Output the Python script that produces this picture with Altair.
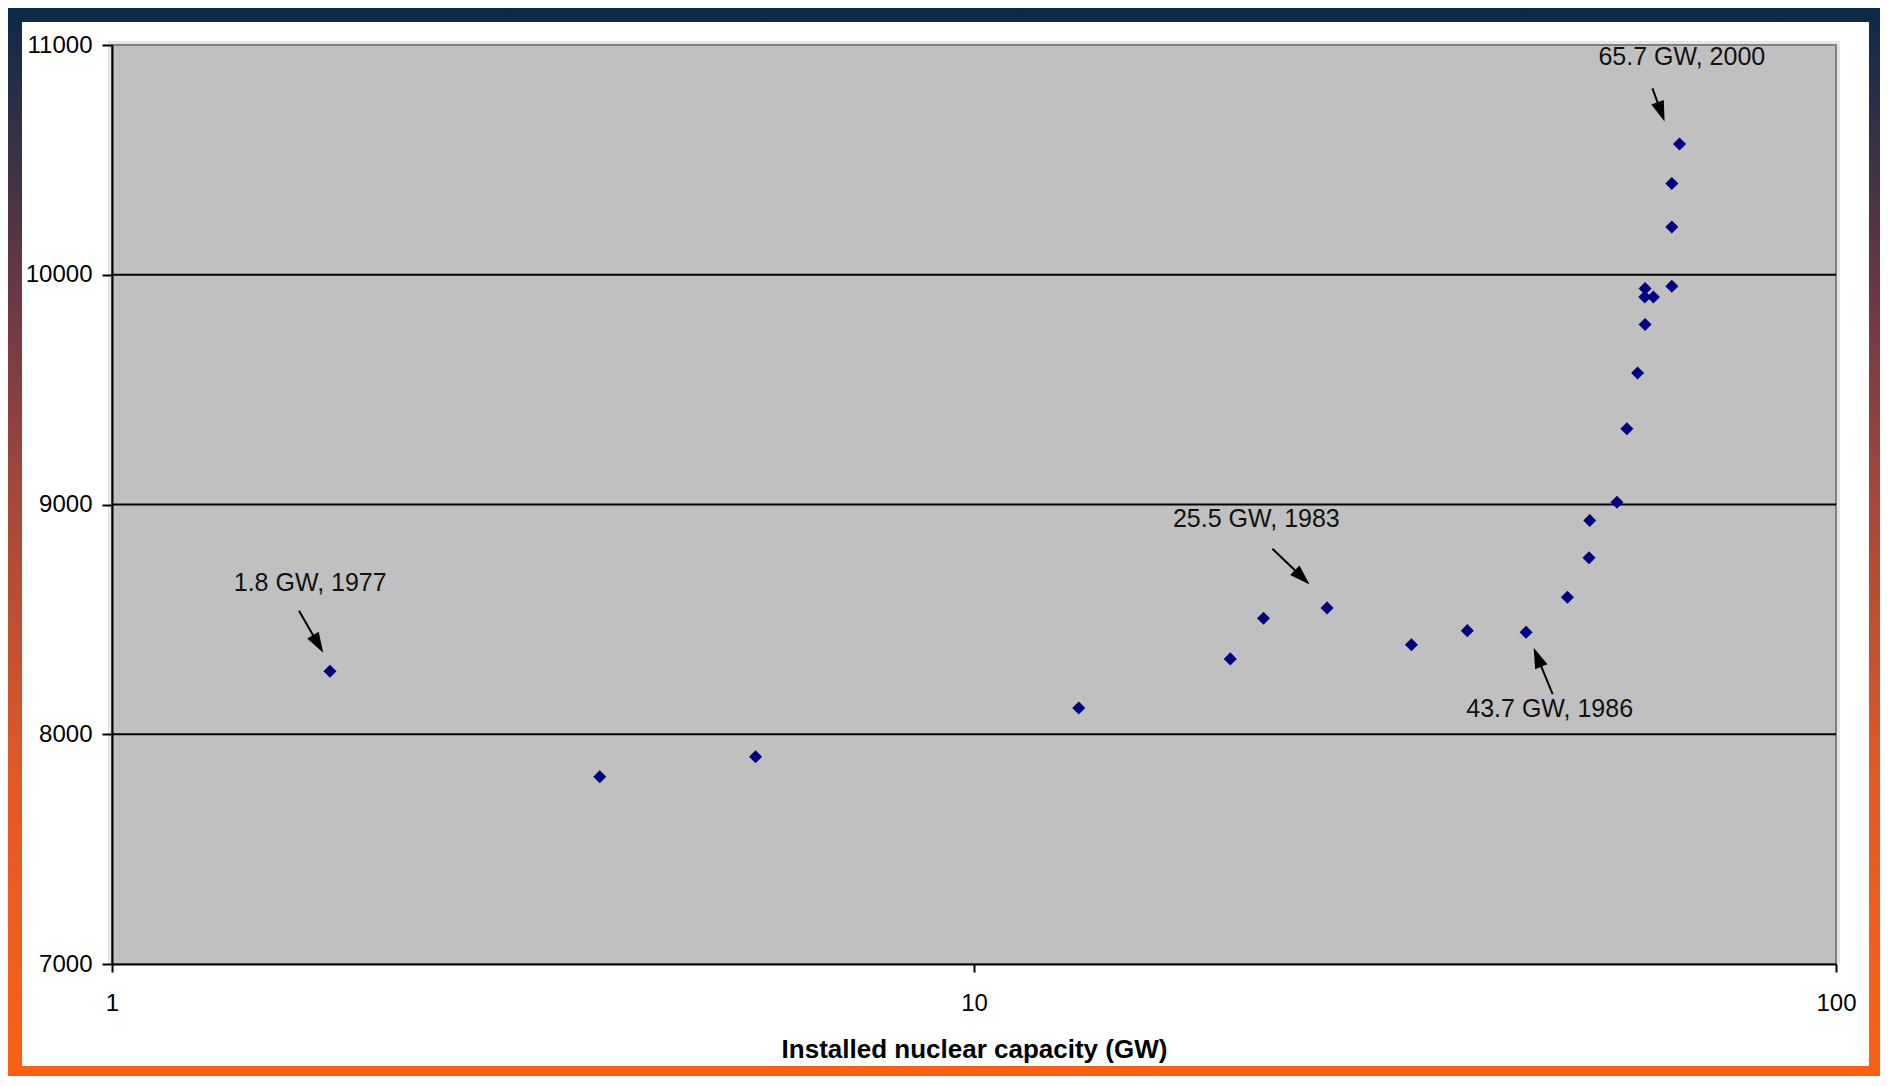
import altair as alt
import pandas as pd

# ---------------- data ----------------
capacity_gw = [1.79, 3.68, 5.58, 13.23, 19.83, 21.67, 25.68, 32.17, 37.35, 43.7,
               48.8, 51.7, 51.8, 55.7, 57.2, 58.86, 60.05, 60.0, 61.4, 60.05,
               64.5, 64.5, 64.5, 65.84]
values = [8274, 7815, 7902, 8114, 8328, 8505, 8550, 8390, 8451, 8444,
          8596, 8768, 8930, 9010, 9330, 9572, 9783, 9903, 9903, 9940,
          9950, 10208, 10397, 10569]

x_ticks = [1, 10, 100]
y_ticks = [7000, 8000, 9000, 10000, 11000]
grid_values = [8000, 9000, 10000]

ann_text = ["1.8 GW, 1977", "25.5 GW, 1983", "43.7 GW, 1986", "65.7 GW, 2000"]
ann_gw = [1.698, 21.26, 46.54, 66.24]
ann_val = [8660, 8935, 8111, 10948]

arrow_gw_start = [1.648, 22.19, 46.91, 61.24]
arrow_val_start = [8538, 8807, 8175, 10811]
arrow_gw_head = [1.734, 24.03, 45.05, 62.67]
arrow_val_head = [8393, 8683, 8335, 10709]
arrow_angle = [150, 134, 338, 160]

# ---------------- tables ----------------
pts = pd.DataFrame({"gw": capacity_gw, "val": values})
grid_df = pd.DataFrame({"val": grid_values})
ann_df = pd.DataFrame({"gw": ann_gw, "val": ann_val, "label": ann_text})
arr_df = pd.DataFrame({"gw": arrow_gw_start, "val": arrow_val_start,
                       "gw2": arrow_gw_head, "val2": arrow_val_head,
                       "ang": arrow_angle})

FONT = "Liberation Sans"
W, H = 1724, 919
PAD_L, PAD_T = 104, 37
TOTAL_W, TOTAL_H = 1872, 1068

x_scale = alt.Scale(type="log", domain=[1, 100], nice=False)
y_scale = alt.Scale(domain=[7000, 11000], zero=False, nice=False)

x_axis = alt.Axis(values=x_ticks, format="d", tickSize=8, tickWidth=2, tickColor="black",
                  domainColor="black", domainWidth=2, labelFont=FONT, labelFontSize=24,
                  labelColor="black", labelPadding=19, labelFlush=False, labelOverlap=False,
                  grid=False, title="Installed nuclear capacity (GW)", titleFont=FONT,
                  titleFontSize=26, titleFontWeight="bold", titleColor="black",
                  titleBaseline="alphabetic", titleY=93, zindex=1)
y_axis = alt.Axis(values=y_ticks, format="d", tickSize=10, tickWidth=2, tickColor="black",
                  domainColor="black", domainWidth=2, labelFont=FONT, labelFontSize=24,
                  labelColor="black", labelPadding=10, labelOverlap=False, grid=False,
                  title=None, zindex=1)

def X(field="gw"):
    return alt.X(f"{field}:Q", scale=x_scale, axis=x_axis)

def Y(field="val"):
    return alt.Y(f"{field}:Q", scale=y_scale, axis=y_axis)

dummy = alt.Data(values=[{"a": 1}])

gradient = alt.LinearGradient(
    gradient="linear",
    stops=[alt.GradientStop(color="#0b2a48", offset=0),
           alt.GradientStop(color="#6b3845", offset=0.27),
           alt.GradientStop(color="#a5483a", offset=0.46),
           alt.GradientStop(color="#e35a26", offset=0.73),
           alt.GradientStop(color="#fa6115", offset=1)],
    x1=0, x2=0, y1=0, y2=1)

outer_r = TOTAL_W - PAD_L
outer_b = TOTAL_H - PAD_T
frame_outer = alt.Chart(dummy).mark_rect(fill=gradient).encode(
    x=alt.value(-PAD_L), x2=alt.value(outer_r), y=alt.value(-PAD_T), y2=alt.value(outer_b))
frame_inner = alt.Chart(dummy).mark_rect(fill="white").encode(
    x=alt.value(-PAD_L + 14), x2=alt.value(outer_r - 11),
    y=alt.value(-PAD_T + 14), y2=alt.value(outer_b - 10))
plot_edge = alt.Chart(dummy).mark_rect(fill="#e6e6e6").encode(
    x=alt.value(-4), x2=alt.value(W + 4), y=alt.value(-4), y2=alt.value(H))
plot_bg = alt.Chart(dummy).mark_rect(fill="#c0c0c0", stroke="#808080", strokeWidth=2).encode(
    x=alt.value(0), x2=alt.value(W), y=alt.value(0), y2=alt.value(H))

grid = alt.Chart(grid_df).mark_rule(color="black", strokeWidth=2).encode(y=Y())

arrows = alt.Chart(arr_df).mark_rule(color="black", strokeWidth=2).encode(
    x=X(), y=Y(), x2="gw2:Q", y2="val2:Q")
heads = alt.Chart(arr_df).mark_point(
    shape="M0,-1L0.65,1L-0.65,1Z", filled=True, color="black", opacity=1, size=420,
    strokeWidth=0).encode(
    x=X("gw2"), y=Y("val2"), angle=alt.Angle("ang:Q", scale=None))

points = alt.Chart(pts).mark_point(shape="diamond", filled=True, color="#000080",
                                   opacity=1, size=170).encode(x=X(), y=Y())

labels = alt.Chart(ann_df).mark_text(font=FONT, fontSize=25, color="#111111",
                                     align="center", baseline="middle").encode(
    x=X(), y=Y(), text="label:N")

chart = alt.layer(frame_outer, frame_inner, plot_edge, plot_bg, grid, arrows, heads,
                  points, labels).properties(
    width=W, height=H,
    padding={"left": PAD_L, "top": PAD_T, "right": TOTAL_W - PAD_L - W,
             "bottom": TOTAL_H - PAD_T - H},
    autosize="none",
    background="white",
).configure_view(stroke=None, fill=None)

chart.save("out.html", embed_options={"renderer": "svg", "actions": False})
